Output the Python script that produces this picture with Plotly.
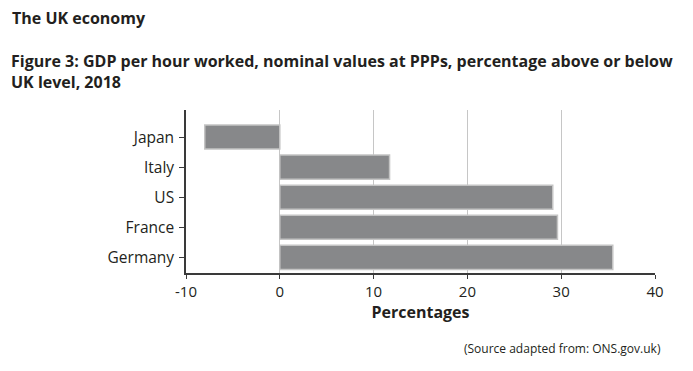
import plotly.graph_objects as go

countries = ["Germany", "France", "US", "Italy", "Japan"]
values = [35.5, 29.6, 29.1, 11.7, -8.0]
x_ticks = [-10, 0, 10, 20, 30, 40]

FONT = "Open Sans"
OFF = 8  # page body margin offset

W, H = 693, 371
l, t = 186 - OFF, 110 - OFF
r = W - (655 - OFF)
b = H - (273 - OFF)
pw, ph = W - l - r, H - t - b

fig = go.Figure()
fig.add_trace(go.Bar(
    y=countries, x=values, orientation="h",
    marker=dict(color="#87888a", line=dict(color="#c4c4c4", width=1.5)),
    width=0.8,
))

def ann(text, x, y, xanchor="left", size=16, align="left"):
    return dict(text=text, x=(x - OFF - l) / pw, y=1 - (y - OFF - t) / ph,
                xref="paper", yref="paper", xanchor=xanchor, yanchor="top",
                align=align, showarrow=False,
                font=dict(size=size, family=FONT, color="#231f20"))

fig.update_layout(
    width=W, height=H,
    margin=dict(l=l, r=r, t=t, b=b),
    paper_bgcolor="white", plot_bgcolor="white",
    showlegend=False,
    font=dict(family=FONT, color="#231f20"),
    xaxis=dict(
        range=[-10, 40], tickvals=x_ticks, ticktext=[str(v) for v in x_ticks],
        showgrid=True, gridcolor="#c6c6c6", gridwidth=1.2,
        zeroline=False,
        showline=True, linecolor="#3a3a3a", linewidth=1.5,
        ticks="outside", ticklen=4, tickcolor="#3a3a3a", tickwidth=1.2,
        tickfont=dict(size=15, family=FONT, color="#231f20"),
        title=dict(text="<b>Percentages</b>", font=dict(size=16, family=FONT, color="#231f20"), standoff=6),
    ),
    yaxis=dict(
        range=[-0.52, 4.9],
        showgrid=False, zeroline=False,
        showline=True, linecolor="#3a3a3a", linewidth=1.5,
        ticks="outside", ticklen=5, tickcolor="#3a3a3a", tickwidth=1.2,
        tickfont=dict(size=15.5, family=FONT, color="#231f20"),
        ticklabelstandoff=2,
    ),
    annotations=[
        ann("<b>The UK economy</b>", 10, 5),
        ann("<b>Figure 3: GDP per hour worked, nominal values at PPPs, percentage above or below<br>UK level, 2018</b>", 9, 48),
        ann("(Source adapted from: ONS.gov.uk)", 663, 338, xanchor="right", size=12),
    ],
)

fig.write_html("out.html")
